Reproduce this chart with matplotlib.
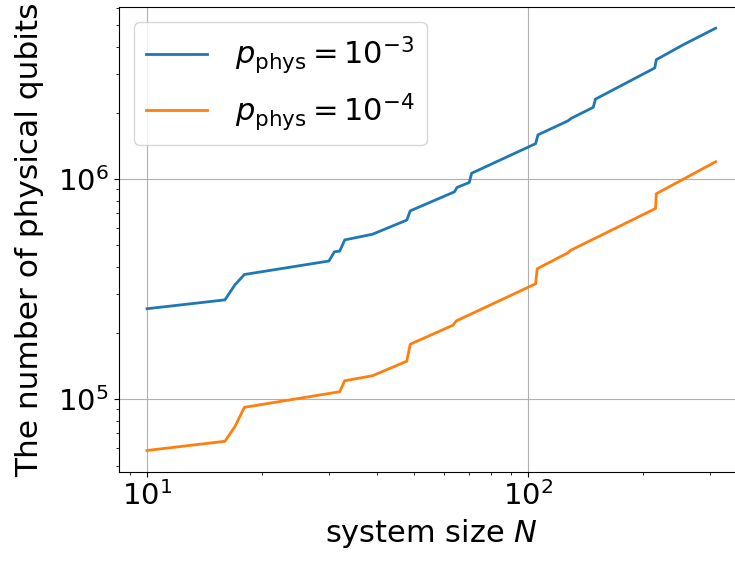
import matplotlib
matplotlib.use("Agg")
import matplotlib.pyplot as plt

# breakpoints (system size N, number of physical qubits)
n_p3 = [10, 16, 17, 18, 30, 31, 32, 33, 39, 48, 49, 64, 65, 70, 71,
        104.5, 106, 127, 129.6, 148, 150, 214.6, 216.6, 255, 310]
q_p3 = [2.58e5, 2.83e5, 3.31e5, 3.69e5, 4.25e5, 4.68e5, 4.71e5, 5.30e5,
        5.62e5, 6.52e5, 7.18e5, 8.76e5, 9.17e5, 9.66e5, 1.064e6,
        1.45e6, 1.59e6, 1.84e6, 1.89e6, 2.12e6, 2.31e6, 3.20e6, 3.49e6,
        4.08e6, 4.85e6]

n_p4 = [10, 16, 17, 18, 32, 33, 39, 48, 49, 63.4, 64.7, 104.5, 105.5,
        127, 129, 215.6, 216.6, 255, 310]
q_p4 = [5.86e4, 6.45e4, 7.52e4, 9.2e4, 1.083e5, 1.215e5, 1.28e5, 1.49e5,
        1.78e5, 2.17e5, 2.27e5, 3.35e5, 3.92e5, 4.63e5, 4.75e5, 7.36e5,
        8.59e5, 1.0e6, 1.2e6]

labels = [r'$p_{\rm phys}=10^{-3}$', r'$p_{\rm phys}=10^{-4}$']

fig = plt.figure(figsize=(7.35, 5.61), dpi=100)
ax = fig.add_axes([0.1614, 0.1594, 0.851, 0.828])

ax.plot(n_p3, q_p3, color='tab:blue', lw=2, label=labels[0])
ax.plot(n_p4, q_p4, color='tab:orange', lw=2, label=labels[1])
ax.set_xscale('log')
ax.set_yscale('log')
ax.grid(True)
ax.set_xlabel('system size $N$', fontsize=22)
ax.set_ylabel('The number of physical qubits', fontsize=22.5, labelpad=10)
ax.tick_params(labelsize=21)
ax.legend(fontsize=22, loc='upper left', handletextpad=0.9)

fig.savefig('out.png', dpi=100)
